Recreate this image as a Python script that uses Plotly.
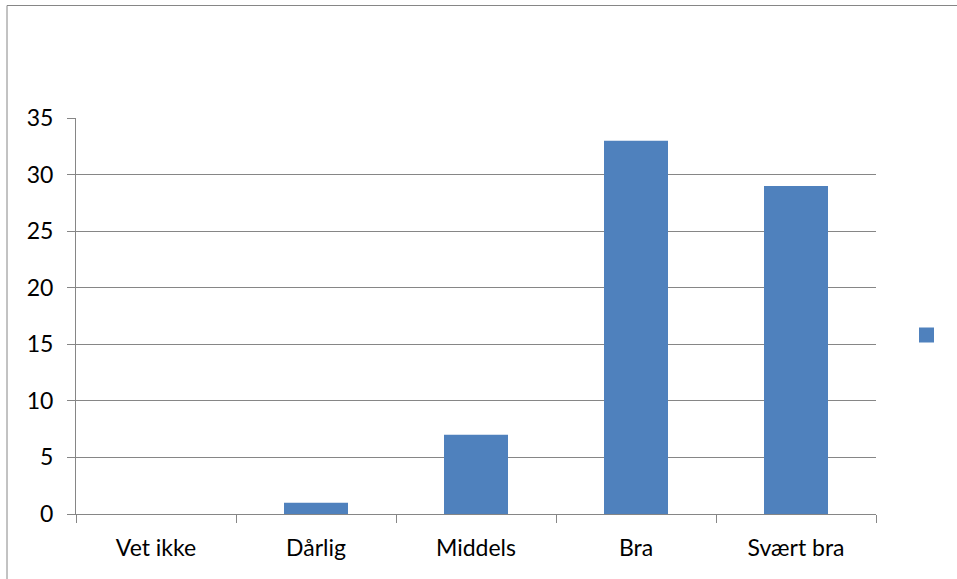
import plotly.graph_objects as go

# Survey answers and counts
categories = ["Vet ikke", "Dårlig", "Middels", "Bra", "Svært bra"]
counts = [0, 1, 7, 33, 29]

y_ticks = [0, 5, 10, 15, 20, 25, 30, 35]

BAR_COLOR = "#4F81BD"
LINE_COLOR = "#868686"
FONT = dict(family="Lato, 'Open Sans', sans-serif", size=23, color="#000000")

fig = go.Figure(
    go.Bar(
        x=categories,
        y=counts,
        marker=dict(color=BAR_COLOR, line=dict(width=0)),
        showlegend=False,
    )
)

frame = dict(
    type="line",
    xref="paper", yref="paper",
    xsizemode="pixel", ysizemode="pixel",
    xanchor=0, yanchor=0,
    line=dict(color=LINE_COLOR, width=1),
    layer="below",
)

fig.update_layout(
    width=957,
    height=579,
    margin=dict(l=76, r=81, t=118, b=64.5),
    paper_bgcolor="white",
    plot_bgcolor="white",
    bargap=0.6,
    font=FONT,
    xaxis=dict(
        showgrid=False,
        showline=True,
        linecolor=LINE_COLOR,
        linewidth=1,
        ticks="outside",
        tickson="boundaries",
        ticklen=8,
        tickcolor=LINE_COLOR,
        tickfont=FONT,
        ticklabelstandoff=13,
    ),
    yaxis=dict(
        range=[0, 35],
        tickvals=y_ticks,
        showgrid=True,
        gridcolor=LINE_COLOR,
        gridwidth=1,
        showline=True,
        linecolor=LINE_COLOR,
        linewidth=1,
        ticks="outside",
        ticklen=8,
        tickcolor=LINE_COLOR,
        tickfont=FONT,
        ticklabelstandoff=9,
        zeroline=False,
    ),
    shapes=[
        # chart frame: left and top edges
        dict(frame, x0=-69, x1=-69, y0=-200, y1=508.5),
        dict(frame, x0=-69, x1=1000, y0=508.5, y1=508.5),
        # legend swatch for the single series
        dict(
            type="rect",
            xref="paper", yref="paper",
            xsizemode="pixel", ysizemode="pixel",
            xanchor=1, yanchor=0,
            x0=43, x1=58, y0=171.5, y1=186.5,
            line=dict(width=0),
            fillcolor=BAR_COLOR,
        ),
    ],
)

fig.write_html("out.html")
